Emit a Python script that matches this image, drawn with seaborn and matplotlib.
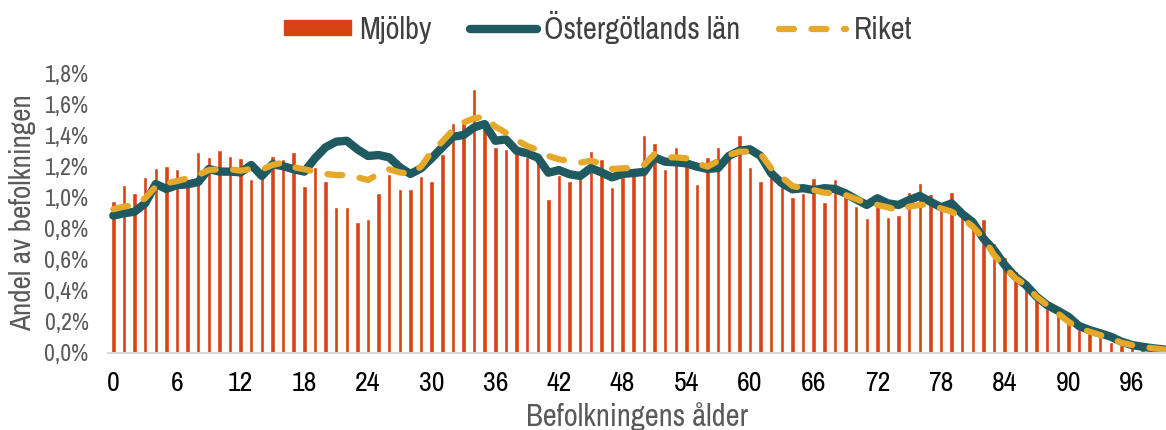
import matplotlib
matplotlib.use("Agg")
import matplotlib.pyplot as plt
import seaborn as sns
import numpy as np
import pandas as pd
from matplotlib import font_manager
from matplotlib.patches import Patch
from matplotlib.lines import Line2D
from matplotlib.ticker import FuncFormatter

ages = list(range(100))

mjolby = [
    0.975, 1.079, 1.027, 1.130, 1.192, 1.205, 1.184, 1.080, 1.292, 1.261,
    1.304, 1.266, 1.255, 1.119, 1.140, 1.270, 1.246, 1.292, 1.072, 1.200,
    1.106, 0.941, 0.941, 0.844, 0.863, 1.031, 1.150, 1.053, 1.053, 1.139,
    1.108, 1.280, 1.483, 1.504, 1.700, 1.450, 1.328, 1.315, 1.285, 1.259,
    1.242, 0.988, 1.145, 1.108, 1.124, 1.298, 1.247, 1.068, 1.134, 1.160,
    1.401, 1.350, 1.184, 1.324, 1.220, 1.087, 1.259, 1.324, 1.260, 1.401,
    1.199, 1.104, 1.130, 1.074, 1.005, 1.031, 1.128, 0.969, 1.117, 1.005,
    0.945, 0.868, 0.945, 0.874, 0.886, 1.035, 1.092, 1.021, 0.920, 1.035,
    0.880, 0.874, 0.861, 0.709, 0.618, 0.526, 0.440, 0.370, 0.290, 0.250,
    0.200, 0.150, 0.130, 0.100, 0.070, 0.050, 0.040, 0.020, 0.020, 0.010,
]

ostergotland = [
    0.883, 0.898, 0.908, 0.962, 1.087, 1.055, 1.080, 1.085, 1.100, 1.184,
    1.167, 1.167, 1.162, 1.210, 1.139, 1.214, 1.202, 1.182, 1.167, 1.253,
    1.324, 1.360, 1.366, 1.311, 1.268, 1.274, 1.259, 1.195, 1.152, 1.188,
    1.253, 1.324, 1.392, 1.403, 1.453, 1.474, 1.366, 1.375, 1.302, 1.285,
    1.257, 1.160, 1.177, 1.150, 1.139, 1.190, 1.162, 1.130, 1.152, 1.158,
    1.165, 1.259, 1.231, 1.227, 1.220, 1.199, 1.184, 1.190, 1.268, 1.302,
    1.311, 1.268, 1.156, 1.092, 1.053, 1.060, 1.048, 1.060, 1.055, 1.027,
    0.988, 0.952, 0.995, 0.962, 0.952, 0.984, 1.010, 0.973, 0.937, 0.962,
    0.894, 0.840, 0.735, 0.661, 0.565, 0.489, 0.435, 0.360, 0.306, 0.270,
    0.231, 0.171, 0.145, 0.124, 0.102, 0.070, 0.048, 0.037, 0.027, 0.020,
]

riket = [
    0.924, 0.941, 0.952, 0.995, 1.070, 1.092, 1.106, 1.124, 1.145, 1.177,
    1.182, 1.182, 1.173, 1.185, 1.180, 1.210, 1.225, 1.195, 1.182, 1.167,
    1.152, 1.145, 1.145, 1.130, 1.113, 1.152, 1.182, 1.162, 1.152, 1.199,
    1.296, 1.360, 1.435, 1.483, 1.511, 1.521, 1.457, 1.418, 1.371, 1.332,
    1.306, 1.268, 1.246, 1.237, 1.225, 1.237, 1.220, 1.184, 1.188, 1.192,
    1.210, 1.281, 1.259, 1.259, 1.253, 1.220, 1.199, 1.237, 1.274, 1.296,
    1.296, 1.281, 1.188, 1.130, 1.074, 1.060, 1.048, 1.031, 1.027, 1.016,
    0.990, 0.962, 0.952, 0.937, 0.915, 0.941, 0.952, 0.952, 0.930, 0.908,
    0.866, 0.812, 0.737, 0.629, 0.553, 0.479, 0.435, 0.360, 0.306, 0.253,
    0.199, 0.156, 0.134, 0.113, 0.092, 0.063, 0.048, 0.037, 0.027, 0.020,
]

df = pd.DataFrame({"alder": ages, "Mjölby": mjolby,
                   "Östergötlands län": ostergotland, "Riket": riket})

BAR = "#D84315"
TEAL = "#1E5A5F"
GOLD = "#E5A82A"

# pick a narrow sans face if one is installed
fonts = font_manager.fontManager.ttflist
narrow = None
for f in fonts:
    if "Narrow" in f.name or "Condensed" in f.name:
        narrow = f.name
        break
if narrow is None:
    for f in fonts:
        if f.stretch in ("condensed", "semi-condensed", "extra-condensed"):
            narrow = f.name
            break
family = [narrow, "DejaVu Sans"] if narrow else ["Roboto", "DejaVu Sans"]

sns.set_style("white")
plt.rcParams["font.family"] = family
plt.rcParams["font.stretch"] = "condensed"

fig = plt.figure(figsize=(11.66, 4.30), dpi=100)
ax = fig.add_axes([108 / 1166, 77.5 / 430, 1 - 108 / 1166, 279 / 430])

sns.barplot(data=df, x="alder", y="Mjölby", native_scale=True, width=0.42,
            color=BAR, saturation=1, ax=ax)
sns.lineplot(data=df, x="alder", y="Östergötlands län", color=TEAL,
             linewidth=6, ax=ax, solid_capstyle="round", solid_joinstyle="round")
sns.lineplot(data=df, x="alder", y="Riket", color=GOLD, linewidth=4.5,
             dashes=False, ax=ax)
riket_line = ax.lines[-1]
riket_line.set_dashes([2.4, 2.8])
riket_line.set_dash_capstyle("round")

ax.set_xlim(-0.5, 99.2)
ax.set_ylim(0, 1.8)
ax.set_xticks(range(0, 97, 6))
ax.set_yticks(np.arange(0, 1.81, 0.2))
ax.yaxis.set_major_formatter(FuncFormatter(lambda v, p: f"{v:.1f}%".replace(".", ",")))
ax.tick_params(axis="x", length=0, pad=13, labelsize=20, labelcolor="#000000")
ax.tick_params(axis="y", length=0, pad=14, labelsize=17, labelcolor="#595959")
for lbl in ax.get_xticklabels():
    lbl.set_fontweight("bold")

for s in ["top", "right", "left"]:
    ax.spines[s].set_visible(False)
ax.spines["bottom"].set_color("#D9D9D9")
ax.spines["bottom"].set_linewidth(1.5)

ax.set_xlabel("Befolkningens ålder", fontsize=22, color="#595959", labelpad=5)
ax.set_ylabel("Andel av befolkningen", fontsize=21, color="#595959", labelpad=6)

handles = [
    Patch(facecolor=BAR, edgecolor=BAR),
    Line2D([0], [0], color=TEAL, linewidth=6, solid_capstyle="round"),
    Line2D([0], [0], color=GOLD, linewidth=4.5, dashes=[2.4, 2.8],
           dash_capstyle="round"),
]
fig.legend(handles, ["Mjölby", "Östergötlands län", "Riket"], loc="center",
           bbox_to_anchor=(0.513, 0.937), ncol=3, frameon=False, fontsize=22,
           handlelength=2.2, handleheight=0.38, handletextpad=0.25,
           columnspacing=1.25, labelcolor="#404040")

fig.savefig("out.png", dpi=100)
